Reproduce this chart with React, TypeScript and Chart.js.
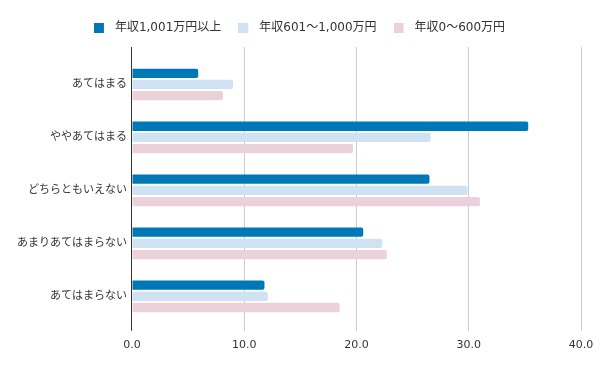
import React, { useEffect, useRef } from "react";
import { Chart, registerables } from "chart.js";

Chart.register(...registerables);

const categories = ["あてはまる", "ややあてはまる", "どちらともいえない", "あまりあてはまらない", "あてはまらない"];
const seriesNames = ["年収1,001万円以上", "年収601～1,000万円", "年収0～600万円"];
const highIncome = [5.9, 35.3, 26.5, 20.6, 11.8];
const midIncome = [9.0, 26.6, 29.9, 22.3, 12.1];
const lowIncome = [8.1, 19.7, 31.0, 22.7, 18.5];
const xTicks = [0, 10, 20, 30, 40];

const colors = ["#0078b8", "#cfe2f3", "#ead1dc"];
const FONT = "'DejaVu Sans', 'Noto Sans CJK JP', sans-serif";

const legendSpacer = {
  id: "legendSpacer",
  beforeInit(chart: any) {
    const legend = chart.legend;
    if (!legend) return;
    const orig = legend.fit;
    legend.fit = function () {
      orig.call(this);
      this.height += 14;
    };
  },
};

const gridExtend = {
  id: "gridExtend",
  beforeDatasetsDraw(chart: any) {
    const { ctx, chartArea, scales } = chart;
    const x = scales.x;
    ctx.save();
    ctx.lineWidth = 1;
    xTicks.forEach((v, i) => {
      const px = Math.round(x.getPixelForValue(v) - 0.5) + 0.5;
      ctx.strokeStyle = i === 0 ? "#333333" : "#cccccc";
      ctx.beginPath();
      ctx.moveTo(px, chartArea.top - 11);
      ctx.lineTo(px, chartArea.top);
      ctx.stroke();
    });
    ctx.restore();
  },
};

function makeIcon(color: string) {
  const c = document.createElement("canvas");
  c.width = 15;
  c.height = 10;
  const g = c.getContext("2d");
  if (g) {
    g.fillStyle = color;
    g.fillRect(0, 0, 10, 10);
  }
  return c;
}

export default function App() {
  const ref = useRef<HTMLCanvasElement | null>(null);
  useEffect(() => {
    if (!ref.current) return;
    const icons = colors.map(makeIcon);
    const chart = new Chart(ref.current, {
      type: "bar",
      data: {
        labels: categories,
        datasets: [highIncome, midIncome, lowIncome].map((d, i) => ({
          label: seriesNames[i],
          data: d,
          backgroundColor: colors[i],
          borderWidth: 0,
          borderRadius: 2,
          borderSkipped: "start",
          categoryPercentage: 0.634,
          barPercentage: 0.83,
        })),
      },
      options: {
        indexAxis: "y",
        animation: false,
        responsive: true,
        maintainAspectRatio: false,
        layout: { padding: { top: 5, left: 12, right: 13, bottom: 11 } },
        plugins: {
          legend: {
            position: "top",
            labels: {
              usePointStyle: true,
              pointStyleWidth: 15,
              boxHeight: 10,
              padding: 17,
              color: "#333333",
              font: { family: FONT, size: 12 },
              generateLabels: (ch: any) => {
                const items = (Chart as any).defaults.plugins.legend.labels.generateLabels(ch);
                items.forEach((it: any, i: number) => {
                  it.pointStyle = icons[i];
                });
                return items;
              },
            },
          },
          tooltip: { enabled: false },
        },
        scales: {
          x: {
            min: 0,
            max: 40,
            afterBuildTicks: (scale: any) => {
              scale.ticks = xTicks.map((v) => ({ value: v }));
            },
            afterFit: (scale: any) => {
              scale.paddingRight = 19;
            },
            ticks: {
              color: "#333333",
              padding: 8,
              font: { family: FONT, size: 11 },
              callback: (v: any) => Number(v).toFixed(1),
            },
            grid: {
              color: (c: any) => (c.index === 0 ? "#333333" : "#cccccc"),
              tickLength: 8,
            },
            border: { display: false },
          },
          y: {
            grid: { display: false, drawTicks: false },
            border: { display: false },
            ticks: {
              color: "#333333",
              padding: 5,
              font: { family: FONT, size: 11 },
            },
          },
        },
      },
      plugins: [legendSpacer, gridExtend],
    } as any);
    return () => chart.destroy();
  }, []);
  return (
    <div style={{ position: "fixed", left: 0, top: 0, width: 600, height: 371, background: "#fff" }}>
      <canvas ref={ref} />
    </div>
  );
}
